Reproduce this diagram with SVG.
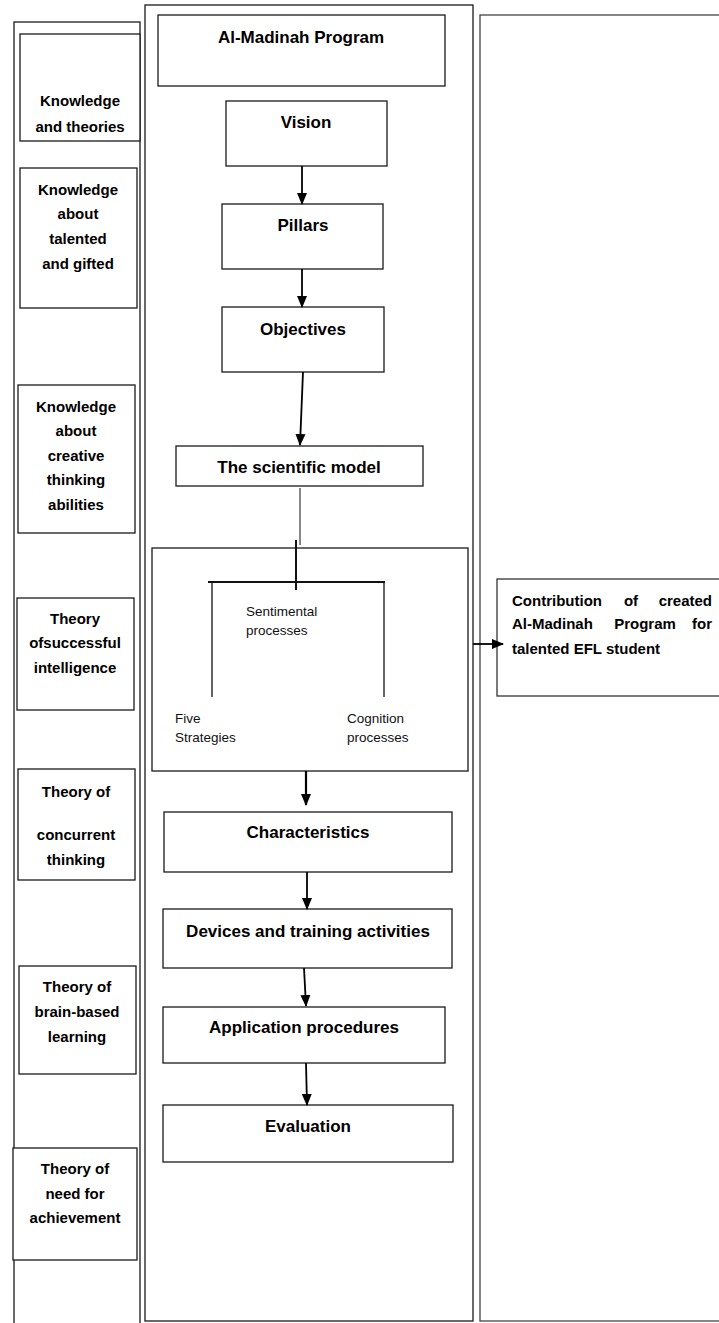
<svg xmlns="http://www.w3.org/2000/svg" width="719" height="1323" viewBox="0 0 719 1323">
<style>
.box{fill:#fff;stroke:#1a1a1a;stroke-width:1.3}
.frame{fill:none;stroke:#1a1a1a;stroke-width:1.3}
.lt{font-family:"Liberation Sans",Arial,sans-serif;font-weight:bold;font-size:15px;fill:#000;text-anchor:middle}
.mt{font-family:"Liberation Sans",Arial,sans-serif;font-weight:bold;font-size:17px;fill:#000;text-anchor:middle}
.rt{font-family:"Liberation Sans",Arial,sans-serif;font-weight:bold;font-size:15px;fill:#000}
.st{font-family:"Liberation Sans",Arial,sans-serif;font-size:13.5px;fill:#111}
.arr{stroke:#000;stroke-width:1.8;fill:none;marker-end:url(#ah)}
.ln{stroke:#111;stroke-width:1.3;fill:none}
</style>
<defs>
<marker id="ah" markerUnits="userSpaceOnUse" markerWidth="12" markerHeight="12" viewBox="0 0 12 12" refX="11" refY="6" orient="auto">
<path d="M0,1 L12,6 L0,11 Z" fill="#000"/>
</marker>
</defs>
<rect width="719" height="1323" fill="#fff"/>

<g id="frames">
<rect id="left-frame" class="frame" x="14" y="22" width="126" height="1320"/>
<rect id="middle-frame" class="frame" x="145" y="5" width="328" height="1316"/>
<rect id="right-frame" class="frame" x="480" y="15" width="260" height="1306" style="stroke:#444"/>
</g>

<g id="left-1"><rect class="box" x="20" y="34" width="120" height="107"/>
<text class="lt" x="80" y="106">Knowledge</text><text class="lt" x="80" y="132">and theories</text></g>
<g id="left-2"><rect class="box" x="20" y="168" width="117" height="140"/>
<text class="lt" x="78" y="195">Knowledge</text><text class="lt" x="78" y="219">about</text><text class="lt" x="78" y="244">talented</text><text class="lt" x="78" y="269">and gifted</text></g>
<g id="left-3"><rect class="box" x="18" y="385" width="117" height="148"/>
<text class="lt" x="76" y="412">Knowledge</text><text class="lt" x="76" y="436">about</text><text class="lt" x="76" y="461">creative</text><text class="lt" x="76" y="485">thinking</text><text class="lt" x="76" y="510">abilities</text></g>
<g id="left-4"><rect class="box" x="17" y="598" width="117" height="112"/>
<text class="lt" x="75" y="624">Theory</text><text class="lt" x="75" y="648">ofsuccessful</text><text class="lt" x="75" y="673">intelligence</text></g>
<g id="left-5"><rect class="box" x="18" y="769" width="117" height="111"/>
<text class="lt" x="76" y="797">Theory of</text><text class="lt" x="76" y="840">concurrent</text><text class="lt" x="76" y="865">thinking</text></g>
<g id="left-6"><rect class="box" x="19" y="966" width="117" height="108"/>
<text class="lt" x="77" y="992">Theory of</text><text class="lt" x="77" y="1017">brain-based</text><text class="lt" x="77" y="1042">learning</text></g>
<g id="left-7"><rect class="box" x="13" y="1148" width="124" height="112"/>
<text class="lt" x="75" y="1174">Theory of</text><text class="lt" x="75" y="1199">need for</text><text class="lt" x="75" y="1223">achievement</text></g>

<g id="program"><rect class="box" x="158" y="15" width="287" height="71"/>
<text class="mt" x="301" y="43">Al-Madinah Program</text></g>
<g id="vision"><rect class="box" x="226" y="101" width="161" height="65"/>
<text class="mt" x="306" y="128">Vision</text></g>
<g id="pillars"><rect class="box" x="222" y="204" width="161" height="65"/>
<text class="mt" x="303" y="231">Pillars</text></g>
<g id="objectives"><rect class="box" x="222" y="307" width="162" height="65"/>
<text class="mt" x="303" y="335">Objectives</text></g>
<g id="scientific-model"><rect class="box" x="176" y="446" width="247" height="40"/>
<text class="mt" x="299" y="473">The scientific model</text></g>
<g id="model-detail"><rect class="box" x="152" y="548" width="316" height="223"/>
<text class="st" x="246" y="616">Sentimental</text><text class="st" x="246" y="635">processes</text>
<text class="st" x="175" y="723">Five</text><text class="st" x="175" y="742">Strategies</text>
<text class="st" x="347" y="723">Cognition</text><text class="st" x="347" y="742">processes</text></g>
<g id="characteristics"><rect class="box" x="164" y="812" width="288" height="60"/>
<text class="mt" x="308" y="838">Characteristics</text></g>
<g id="devices"><rect class="box" x="163" y="909" width="289" height="59"/>
<text class="mt" x="308" y="937">Devices and training activities</text></g>
<g id="application"><rect class="box" x="163" y="1007" width="282" height="56"/>
<text class="mt" x="304" y="1033">Application procedures</text></g>
<g id="evaluation"><rect class="box" x="163" y="1105" width="290" height="57"/>
<text class="mt" x="308" y="1132">Evaluation</text></g>
<g id="contribution"><rect class="box" x="497" y="579" width="240" height="117" style="stroke:#333"/>
<text class="rt" x="512" y="606">Contribution</text><text class="rt" x="631" y="606" text-anchor="middle">of</text><text class="rt" x="712" y="606" text-anchor="end">created</text>
<text class="rt" x="512" y="629">Al-Madinah</text><text class="rt" x="645" y="629" text-anchor="middle">Program</text><text class="rt" x="712" y="629" text-anchor="end">for</text>
<text class="rt" x="512" y="654">talented EFL student</text></g>

<g id="connectors">
<line class="arr" x1="302" y1="166" x2="302" y2="204"/>
<line class="arr" x1="302" y1="269" x2="302" y2="307"/>
<line class="arr" x1="303" y1="372" x2="300" y2="445"/>
<line class="ln" x1="300" y1="488" x2="300" y2="545" style="stroke-width:1"/>
<line class="ln" x1="296" y1="540" x2="296" y2="590" style="stroke-width:2"/>
<line class="ln" x1="208" y1="582" x2="385" y2="582" style="stroke-width:2"/>
<line class="ln" x1="212" y1="582" x2="212" y2="697"/>
<line class="ln" x1="384" y1="582" x2="384" y2="697"/>
<line class="arr" x1="306" y1="771" x2="306" y2="805" style="stroke-width:2.2"/>
<line class="arr" x1="307" y1="872" x2="307" y2="909"/>
<line class="arr" x1="304" y1="968" x2="306" y2="1006"/>
<line class="arr" x1="306" y1="1063" x2="307" y2="1105"/>
<line class="arr" x1="473" y1="644" x2="503" y2="644"/>
</g>
</svg>
